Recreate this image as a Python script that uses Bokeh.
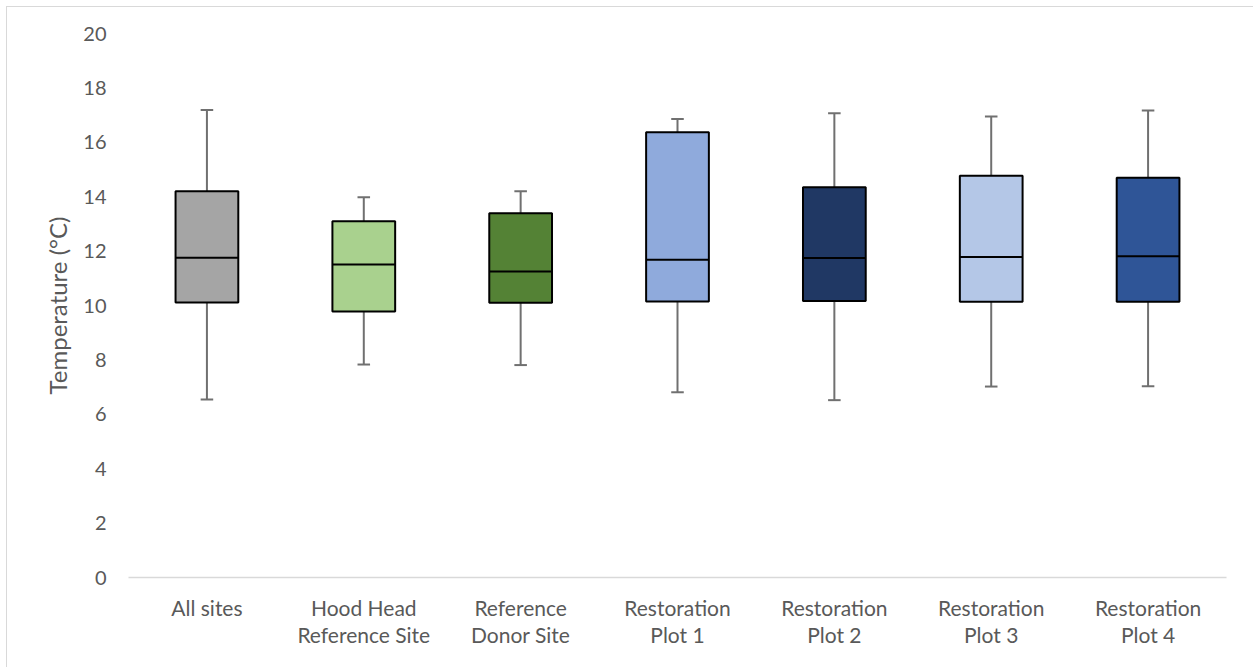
from bokeh.plotting import figure
from bokeh.models import Range1d, FixedTicker, InlineStyleSheet
from bokeh.embed import file_html
from bokeh.resources import INLINE

# Water temperature summaries per site (°C)
sites = ["All sites", "Hood Head\nReference Site", "Reference\nDonor Site",
         "Restoration\nPlot 1", "Restoration\nPlot 2", "Restoration\nPlot 3",
         "Restoration\nPlot 4"]
whisker_low = [6.54, 7.83, 7.81, 6.81, 6.52, 7.02, 7.03]
q1 = [10.11, 9.78, 10.10, 10.15, 10.17, 10.14, 10.14]
median = [11.76, 11.51, 11.25, 11.68, 11.75, 11.78, 11.81]
q3 = [14.20, 13.10, 13.39, 16.37, 14.35, 14.77, 14.70]
whisker_high = [17.19, 13.98, 14.20, 16.86, 17.07, 16.95, 17.17]
colors = ["#A5A5A5", "#A9D18E", "#548235", "#8FAADC", "#203864", "#B4C7E7", "#2F5597"]

y_ticks = [0, 2, 4, 6, 8, 10, 12, 14, 16, 18, 20]

FONT = "Lato"
TEXT = "#595959"

# thin chart-area border along the top and left edges
border_css = InlineStyleSheet(css="""
:host::after {
  content: "";
  position: absolute;
  left: 6px; top: 6px; right: 0; bottom: 0;
  border-left: 1.5px solid #D9D9D9;
  border-top: 1.5px solid #D9D9D9;
  pointer-events: none;
  z-index: 5;
}
""")

p = figure(x_range=sites, y_range=Range1d(0, 20), width=1253, height=667,
           output_backend="svg", toolbar_location=None,
           min_border_left=128, min_border_right=27,
           min_border_top=33, min_border_bottom=90,
           stylesheets=[border_css])
p.outline_line_color = None
p.xgrid.grid_line_color = None
p.ygrid.grid_line_color = None

# whiskers with caps
WHISKER = "#707070"
p.segment(x0=sites, y0=whisker_low, x1=sites, y1=q1, line_color=WHISKER, line_width=2)
p.segment(x0=sites, y0=q3, x1=sites, y1=whisker_high, line_color=WHISKER, line_width=2)
cap_l = [(s, -0.04) for s in sites]
cap_r = [(s, 0.04) for s in sites]
p.segment(x0=cap_l, y0=whisker_low, x1=cap_r, y1=whisker_low, line_color=WHISKER, line_width=2)
p.segment(x0=cap_l, y0=whisker_high, x1=cap_r, y1=whisker_high, line_color=WHISKER, line_width=2)

# boxes and medians
p.vbar(x=sites, bottom=q1, top=q3, width=0.4, fill_color=colors,
       line_color="black", line_width=2)
med_l = [(s, -0.2) for s in sites]
med_r = [(s, 0.2) for s in sites]
p.segment(x0=med_l, y0=median, x1=med_r, y1=median, line_color="black", line_width=2)

# axes
p.xaxis.axis_line_color = "#D9D9D9"
p.xaxis.axis_line_width = 1.5
p.xaxis.major_tick_line_color = None
p.xaxis.minor_tick_line_color = None
p.xaxis.major_label_text_font = FONT
p.xaxis.major_label_text_font_size = "21px"
p.xaxis.major_label_text_color = TEXT
p.xaxis.major_label_text_line_height = 1.1
p.xaxis.major_label_standoff = 11

p.yaxis.ticker = FixedTicker(ticks=y_ticks)
p.yaxis.axis_line_color = None
p.yaxis.major_tick_line_color = None
p.yaxis.minor_tick_line_color = None
p.yaxis.major_label_text_font = FONT
p.yaxis.major_label_text_font_size = "20px"
p.yaxis.major_label_text_color = TEXT
p.yaxis.major_label_standoff = 16
p.yaxis.axis_label = "Temperature (°C)"
p.yaxis.axis_label_text_font = FONT
p.yaxis.axis_label_text_font_size = "24px"
p.yaxis.axis_label_text_font_style = "normal"
p.yaxis.axis_label_text_color = TEXT
p.yaxis.axis_label_standoff = 8

open("out.html", "w").write(file_html(p, INLINE))
